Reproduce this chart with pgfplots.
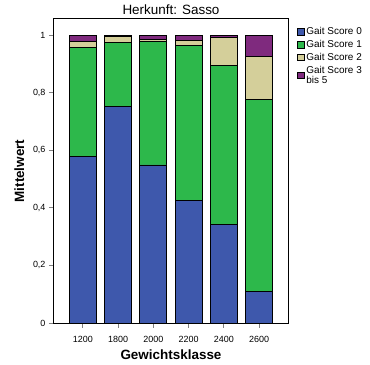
\documentclass[border=0pt]{standalone}
\usepackage{fontspec}
\setmainfont{Liberation Sans}
\usepackage{pgfplots}
\pgfplotsset{compat=1.18}
\definecolor{gsnull}{HTML}{3E58AC}
\definecolor{gseins}{HTML}{2DB84B}
\definecolor{gszwei}{HTML}{D4CF9A}
\definecolor{gsdrei}{HTML}{7F2A7E}
\begin{document}
\begin{tikzpicture}
\path (-54bp,-42bp) rectangle (316bp,323bp);
\begin{axis}[
    at={(0,0)}, anchor=south west,
    scale only axis, width=234bp, height=304bp,
    ybar stacked, bar width=27bp,
    xmin=-0.82, xmax=5.82, ymin=0, ymax=1.056,
    xtick={0,1,2,3,4,5},
    xticklabels={1200,1800,2000,2200,2400,2600},
    ytick={0,0.2,0.4,0.6,0.8,1},
    /pgf/number format/use comma,
    /pgf/number format/assume math mode=true,
    tick align=outside, major tick length=5bp,
    xtick pos=bottom, ytick pos=left,
    tick style={line width=0.8bp},
    tick label style={font=\fontsize{9}{10}\selectfont},
    xticklabel style={yshift=-5bp},
    axis line style={line width=1bp},
    title={Herkunft: Sasso},
    title style={font=\fontsize{13.5}{15}\selectfont, yshift=-5bp},
    xlabel={Gewichtsklasse},
    ylabel={Mittelwert},
    label style={font=\bfseries\fontsize{13.5}{15}\selectfont},
    xlabel style={yshift=0bp},
    ylabel style={yshift=2bp},
    legend style={at={(1.025,0.985)}, anchor=north west, draw=none, fill=none,
        font=\fontsize{10}{10.5}\selectfont,
        cells={anchor=west, align=left}, row sep=0bp},
    legend image code/.code={\draw[#1, draw=black, line width=0.8bp] (0bp,-3.3bp) rectangle (6.6bp,3.3bp);},
    every axis plot/.append style={draw=black, line width=0.8bp},
]
\addplot[fill=gsnull] coordinates {(0,0.580)(1,0.753)(2,0.549)(3,0.427)(4,0.343)(5,0.109)};
\addlegendentry{Gait Score 0}
\addplot[fill=gseins] coordinates {(0,0.377)(1,0.220)(2,0.429)(3,0.538)(4,0.553)(5,0.668)};
\addlegendentry{Gait Score 1}
\addplot[fill=gszwei] coordinates {(0,0.022)(1,0.022)(2,0.006)(3,0.018)(4,0.096)(5,0.150)};
\addlegendentry{Gait Score 2}
\addplot[fill=gsdrei] coordinates {(0,0.021)(1,0.005)(2,0.016)(3,0.017)(4,0.008)(5,0.073)};
\addlegendentry{Gait Score 3\\bis 5}
\end{axis}
\end{tikzpicture}
\end{document}
